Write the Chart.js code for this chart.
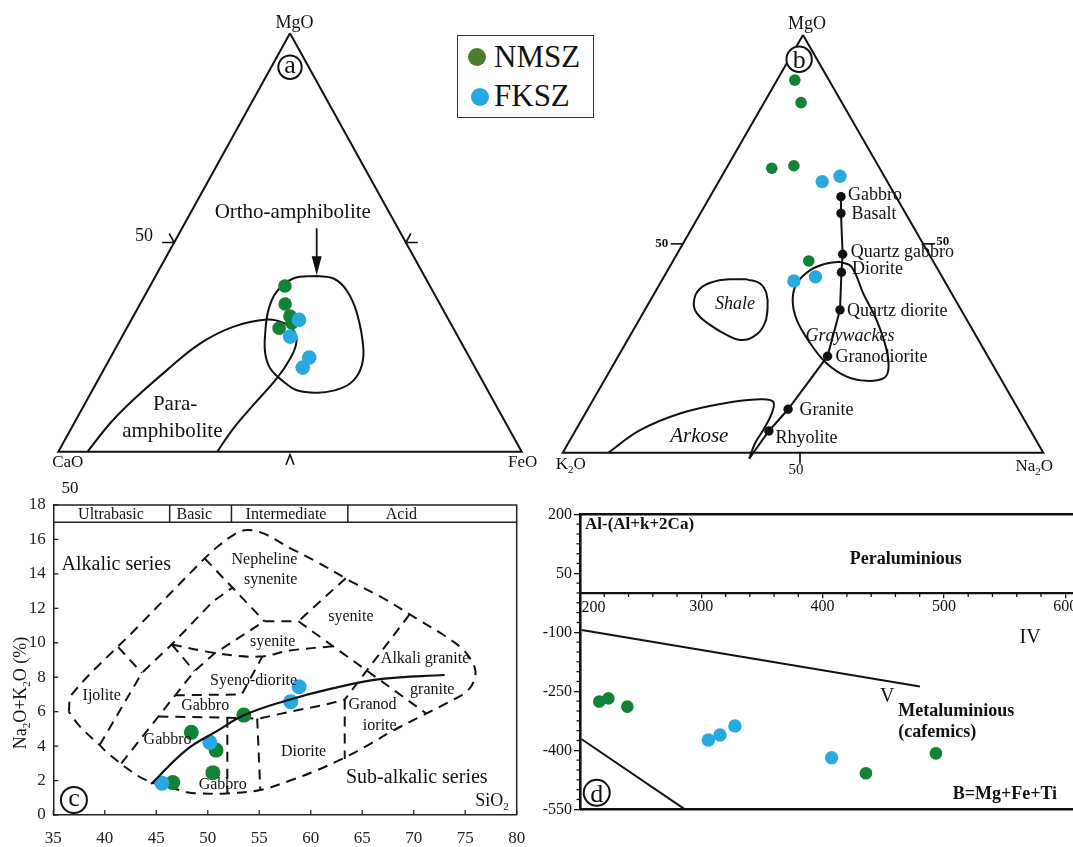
<!DOCTYPE html>
<html>
<head>
<meta charset="utf-8">
<title>Geochemical discrimination diagrams</title>
<script src="https://cdn.jsdelivr.net/npm/chart.js@4.4.1/dist/chart.umd.min.js"></script>
<style>
  html, body { margin: 0; padding: 0; background: #fff; width: 1073px; height: 847px; overflow: hidden; }
  canvas { position: absolute; }
  #legend { position: absolute; left: 457px; top: 35px; width: 137px; height: 83px; box-sizing: border-box;
            border: 1.3px solid #333; background: #fff; font-family: 'Liberation Serif', serif; color: #111; }
  #legend .dot { position: absolute; width: 18px; height: 18px; border-radius: 50%; }
  #legend .lbl { position: absolute; left: 36px; font-size: 31px; line-height: 31px; white-space: nowrap; }
</style>
</head>
<body>
<canvas id="chartA" width="540" height="480" style="left:0;top:0"></canvas>
<canvas id="chartB" width="533" height="480" style="left:540px;top:0"></canvas>
<canvas id="chartC" width="540" height="367" style="left:0;top:480px"></canvas>
<canvas id="chartD" width="560" height="367" style="left:540px;top:480px"></canvas>
<div id="legend"></div>
<script>
// ---------------- series ----------------
const seriesNames  = ['NMSZ', 'FKSZ'];
const seriesColors = ['#128236', '#29a9e1'];
const legendColors = ['#4d7d2c', '#27a8e3'];

// (a) MgO–CaO–FeO ternary: samples as [MgO, FeO] in %, CaO is the remainder
const aNMSZ = [[39.6, 29.1], [35.3, 31.3], [32.4, 33.8], [30.8, 35.0], [29.5, 32.9]];
const aFKSZ = [[31.5, 36.2], [27.5, 36.3], [22.5, 42.9], [20.1, 42.7]];
const aOrtho = [[42.0, 34.8], [41.4, 38.7], [38.6, 42.9], [33.1, 47.9], [24.3, 53.7], [19.5, 55.4], [16.3, 54.8],
                [14.6, 52.1], [14.1, 48.7], [14.7, 44.1], [16.7, 40.3], [19.9, 35.8], [23.5, 32.9], [28.3, 30.5],
                [33.9, 28.4], [38.2, 28.0], [41.4, 30.0], [42.0, 34.8]];
const aPara = [[0, 6.3], [6.8, 7.8], [12.4, 10.0], [19.5, 13.7], [25.9, 17.7], [29.9, 22.9], [31.6, 29.2],
               [30.8, 33.2], [28.7, 36.6], [25.9, 38.4], [22.3, 38.9], [17.5, 38.4], [11.2, 36.5], [5.6, 35.0], [0, 34.3]];

// (b) MgO–K2O–Na2O ternary: samples as [MgO, Na2O] in %, K2O is the remainder
const bNMSZ = [[89.2, 3.7], [83.8, 7.7], [68.1, 9.45], [68.7, 13.75], [45.9, 28.25]];
const bFKSZ = [[64.9, 21.55], [66.2, 24.6], [41.1, 27.55], [42.1, 31.55]];
const bRockNames = ['Gabbro', 'Basalt', 'Quartz gabbro', 'Diorite', 'Quartz diorite', 'Granodiorite', 'Granite', 'Rhyolite'];
const bRocks = [[61.3, 27.25], [57.3, 29.25], [47.5, 34.5], [43.2, 36.4], [34.2, 40.6], [23.1, 43.55], [10.4, 41.7], [5.2, 40.3]];
const bTrendEnd = [-1.4, 39.5];
const bShale = [[41.5, 17.55], [40.5, 20.8], [38.1, 23.35], [34.2, 25.5], [30.6, 26.6], [27.8, 25.8], [27.0, 23.4],
                [28.2, 20.0], [30.6, 15.35], [33.4, 11.2], [36.2, 9.2], [39.3, 8.95], [40.9, 10.85], [41.5, 14.05], [41.5, 17.55]];
const bGraywackes = [[45.7, 34.85], [44.5, 37.85], [38.1, 43.5], [31.8, 49.4], [24.6, 55.1], [19.8, 57.85], [17.8, 57.8],
                     [17.2, 54.6], [18.2, 50.0], [21.4, 44.2], [26.2, 38.4], [31.8, 32.8], [36.6, 29.55], [40.5, 28.45],
                     [43.7, 29.65], [45.3, 32.25], [45.7, 34.85]];
const bArkose = [[0, 9.5], [5.4, 13.4], [9.4, 19.7], [11.8, 27.5], [12.8, 34.65], [12.2, 37.7], [9.4, 38.8],
                 [5.4, 39.0], [2.2, 38.9], [-1.4, 39.5]];

// (c) total alkali vs silica: [SiO2, Na2O+K2O] in %
const cNMSZ = [[46.6, 1.88], [48.4, 4.8], [50.8, 3.77], [50.5, 2.46], [53.5, 5.8]];
const cFKSZ = [[45.55, 1.84], [50.2, 4.22], [58.06, 6.58], [58.87, 7.45]];
const cXTicks = [35, 40, 45, 50, 55, 60, 65, 70, 75, 80];
const cYTicks = [0, 2, 4, 6, 8, 10, 12, 14, 16, 18];
const cBandNames = ['Ultrabasic', 'Basic', 'Intermediate', 'Acid'];
const cBandEdges = [35, 46.3, 52.3, 63.6, 80];
const cDivide = [[44.5, 1.8], [47.9, 3.77], [50.8, 4.84], [53.55, 5.8], [57.26, 6.58], [62.1, 7.35], [66.9, 7.9], [73.0, 8.13]];
const cEnvelope = [[36.5, 6.0], [36.8, 7.0], [43.0, 10.8], [49.7, 14.9], [51.0, 15.6], [52.6, 16.3], [53.8, 16.55],
                   [55.4, 16.35], [58.0, 15.5], [60.6, 14.7], [63.8, 13.6], [67.0, 12.6], [70.3, 11.4], [72.9, 10.45],
                   [74.8, 9.6], [75.9, 8.6], [75.9, 7.85], [75.1, 7.15], [73.2, 6.5], [70.6, 5.7], [68.0, 4.9],
                   [65.4, 4.0], [63.2, 3.3], [60.6, 2.6], [58.0, 2.0], [55.1, 1.45], [51.8, 1.25], [49.2, 1.25],
                   [48.0, 1.32], [46.4, 1.6], [44.8, 1.84], [43.2, 2.28], [40.3, 3.58], [39.5, 4.06], [37.6, 5.13], [36.5, 6.0]];
const cFieldLines = [
  [[41.3, 9.75], [43.6, 8.25]],
  [[39.5, 4.06], [43.6, 8.25], [46.5, 9.9], [50.5, 12.4], [52.4, 13.2]],
  [[41.6, 3.0], [48.7, 8.35], [50.7, 9.4], [55.5, 11.25]],
  [[46.5, 9.9], [48.7, 8.35]],
  [[49.7, 14.9], [55.5, 11.25]],
  [[55.5, 11.25], [58.8, 11.25]],
  [[63.4, 13.75], [58.8, 11.25]],
  [[58.8, 11.25], [71.2, 5.9]],
  [[69.6, 11.65], [63.3, 6.7]],
  [[46.8, 6.95], [53.3, 7.0], [55.3, 9.2]],
  [[45.2, 5.72], [52.0, 5.65], [55.0, 5.6], [58.0, 6.0], [61.0, 6.35], [63.3, 6.7]],
  [[51.9, 5.65], [51.9, 1.25]],
  [[54.8, 5.6], [55.1, 1.45]],
  [[63.3, 6.7], [63.3, 3.25]]
];
const cSyeniteBase = [[46.5, 9.9], [50.8, 9.4], [55.0, 9.2], [58.0, 9.55], [62.2, 9.8]];
const cFieldNames = [
  ['Nepheline', 55.5, 14.86], ['synenite', 56.1, 13.7], ['syenite', 63.9, 11.55], ['syenite', 56.3, 10.12],
  ['Alkali granite', 71.1, 9.15], ['Syeno-diorite', 54.45, 7.88], ['Ijolite', 39.7, 6.97], ['Gabbro', 49.75, 6.39],
  ['granite', 71.8, 7.35], ['Granod', 66.0, 6.44], ['iorite', 66.7, 5.26], ['Gabbro', 46.1, 4.45],
  ['Diorite', 59.3, 3.72], ['Gabbro', 51.45, 1.8]
];

// (d) A–B diagram: [B = Mg+Fe+Ti, A = Al-(Al+K+2Ca)]
const dNMSZ = [[215.9, -276], [223.4, -268], [239, -289], [435.7, -458.5], [493.4, -407.7]];
const dFKSZ = [[305.8, -373.7], [315.4, -361], [327.7, -338], [407.4, -418.7]];
const dXTicks = [200, 300, 400, 500, 600];
const dYTicks = [-550, -400, -250, -100, 50, 200];
const dLineIV = [[201.4, -94], [480.2, -238]];
const dLineV  = [[201.4, -372], [286.5, -550]];

// ---------------- shared drawing helpers ----------------
const FONT = "'Liberation Serif', 'Times New Roman', serif";
const INK = '#111';
Chart.defaults.font.family = FONT;
Chart.defaults.color = INK;
Chart.defaults.animation = false;
Chart.defaults.responsive = false;
Chart.defaults.events = [];
Chart.defaults.plugins.legend.display = false;
Chart.defaults.plugins.tooltip.enabled = false;
Chart.defaults.elements.line.capBezierPoints = false;

const toTern = p => ({ x: p[1] + p[0] / 2, y: p[0] });
const toXY = p => ({ x: p[0], y: p[1] });

function pointSet(data, color, r) {
  return { data, backgroundColor: color, borderWidth: 0, pointRadius: r, pointHoverRadius: r, clip: false };
}
function curveSet(data, opts) {
  return Object.assign({ data, showLine: true, borderColor: INK, borderWidth: 2, pointRadius: 0,
                         pointHoverRadius: 0, tension: 0, fill: false, clip: false }, opts || {});
}

// text with "_x" subscripts, (x, y) is the visual centre
function drawText(ctx, str, x, y, o) {
  o = o || {};
  const size = o.size || 16;
  const style = (o.italic ? 'italic ' : '') + (o.bold ? 'bold ' : '');
  const fMain = style + size + 'px ' + FONT;
  const fSub = style + Math.round(size * 0.62) + 'px ' + FONT;
  const parts = [];
  let buf = '';
  for (let i = 0; i < str.length; i++) {
    if (str[i] === '_' && i + 1 < str.length) {
      if (buf) parts.push({ t: buf, sub: false });
      buf = '';
      parts.push({ t: str[i + 1], sub: true });
      i++;
    } else buf += str[i];
  }
  if (buf) parts.push({ t: buf, sub: false });
  let w = 0;
  parts.forEach(p => { ctx.font = p.sub ? fSub : fMain; p.w = ctx.measureText(p.t).width; w += p.w; });
  ctx.save();
  ctx.translate(x, y);
  if (o.rotate) ctx.rotate(o.rotate);
  ctx.fillStyle = o.color || INK;
  ctx.textAlign = 'left';
  ctx.textBaseline = 'alphabetic';
  let cx = o.align === 'left' ? 0 : o.align === 'right' ? -w : -w / 2;
  const base = size * 0.33;
  parts.forEach(p => {
    ctx.font = p.sub ? fSub : fMain;
    ctx.fillText(p.t, cx, p.sub ? base + size * 0.2 : base);
    cx += p.w;
  });
  ctx.restore();
}

function circleLabel(ctx, cx, cy, r, letter, tall) {
  ctx.save();
  ctx.beginPath();
  ctx.arc(cx, cy, r, 0, Math.PI * 2);
  ctx.fillStyle = '#fff';
  ctx.fill();
  ctx.lineWidth = 2;
  ctx.strokeStyle = INK;
  ctx.stroke();
  ctx.font = '26px ' + FONT;
  ctx.fillStyle = INK;
  ctx.textAlign = 'center';
  ctx.textBaseline = 'alphabetic';
  ctx.fillText(letter, cx, cy + (tall ? 26 * 0.34 : 26 * 0.22));
  ctx.restore();
}

function line(ctx, pts) {
  ctx.beginPath();
  ctx.moveTo(pts[0][0], pts[0][1]);
  for (let i = 1; i < pts.length; i++) ctx.lineTo(pts[i][0], pts[i][1]);
  ctx.stroke();
}

const hiddenScales = () => ({
  x: { type: 'linear', min: 0, max: 100, display: false },
  y: { type: 'linear', min: 0, max: 100, display: false }
});
const triangle = [[100, 0], [0, 0], [0, 100], [100, 0]].map(toTern);

// ---------------- legend ----------------
const legendEl = document.getElementById('legend');
const legendSpots = [{ dot: [10, 12], lbl: 4.5 }, { dot: [12.5, 51.5], lbl: 43.5 }];
seriesNames.forEach((name, i) => {
  const d = document.createElement('span');
  d.className = 'dot';
  d.style.left = legendSpots[i].dot[0] + 'px';
  d.style.top = legendSpots[i].dot[1] + 'px';
  d.style.background = legendColors[i];
  legendEl.appendChild(d);
  const t = document.createElement('span');
  t.className = 'lbl';
  t.style.top = legendSpots[i].lbl + 'px';
  t.textContent = name;
  legendEl.appendChild(t);
});

// ---------------- (a) ----------------
const panelA = {
  id: 'panelA',
  afterDatasetsDraw(chart) {
    const { ctx, scales: { x, y } } = chart;
    const P = (u, v) => [x.getPixelForValue(u), y.getPixelForValue(v)];
    const top = P(50, 100), left = P(0, 0), right = P(100, 0);
    drawText(ctx, 'MgO', top[0] + 4.5, top[1] - 11, { size: 18 });
    drawText(ctx, 'CaO', left[0] + 9.5, left[1] + 10, { size: 17 });
    drawText(ctx, 'FeO', right[0] + 1, right[1] + 10, { size: 17 });
    ctx.save();
    ctx.strokeStyle = INK;
    ctx.lineWidth = 1.6;
    const l50 = P(25, 50), r50 = P(75, 50), b50 = P(50, 0);
    line(ctx, [[l50[0] - 12, l50[1]], l50, [l50[0] - 5, l50[1] - 9]]);
    line(ctx, [[r50[0] + 12, r50[1]], r50, [r50[0] + 5, r50[1] - 9]]);
    line(ctx, [[b50[0] - 4, b50[1] + 13], [b50[0], b50[1] + 3], [b50[0] + 4, b50[1] + 13]]);
    // arrow towards the ortho-amphibolite field
    const t = P(55.76, 53.4), h = P(55.76, 42.2);
    ctx.lineWidth = 1.8;
    line(ctx, [t, [h[0], h[1] - 17]]);
    ctx.fillStyle = INK;
    ctx.beginPath();
    ctx.moveTo(h[0] - 5, h[1] - 19);
    ctx.lineTo(h[0] + 5, h[1] - 19);
    ctx.lineTo(h[0], h[1]);
    ctx.closePath();
    ctx.fill();
    ctx.restore();
    const lab50 = P(18.5, 51.8);
    drawText(ctx, '50', lab50[0], lab50[1], { size: 18 });
    const o = P(50.6, 57.4);
    drawText(ctx, 'Ortho-amphibolite', o[0], o[1], { size: 21 });
    const p1 = P(25.2, 11.55), p2 = P(24.6, 5.18);
    drawText(ctx, 'Para-', p1[0], p1[1], { size: 21 });
    drawText(ctx, 'amphibolite', p2[0], p2[1], { size: 21 });
    const c = P(50, 91.9);
    circleLabel(ctx, c[0], c[1], 11.7, 'a', false);
  }
};

new Chart(document.getElementById('chartA'), {
  type: 'scatter',
  data: {
    datasets: [
      pointSet(aFKSZ.map(toTern), seriesColors[1], 7.3),
      pointSet(aNMSZ.map(toTern), seriesColors[0], 6.8),
      curveSet(aOrtho.map(toTern), { tension: 0.4 }),
      curveSet(aPara.map(toTern), { tension: 0.4 }),
      curveSet(triangle)
    ]
  },
  options: { layout: { padding: { left: 58.3, top: 33.3, right: 18.3, bottom: 28.3 } }, scales: hiddenScales() },
  plugins: [panelA]
});

// ---------------- (b) ----------------
const bLabelNudge = [[7, -2.5], [10.5, 0], [8, -3], [10.5, -4.5], [7, 0], [8, 0], [11.5, 0], [6.5, 6]];
const panelB = {
  id: 'panelB',
  afterDatasetsDraw(chart) {
    const { ctx, scales: { x, y } } = chart;
    const P = (u, v) => [x.getPixelForValue(u), y.getPixelForValue(v)];
    const top = P(50, 100), left = P(0, 0), right = P(100, 0);
    drawText(ctx, 'MgO', top[0] + 4, top[1] - 12, { size: 18 });
    drawText(ctx, 'K_2O', left[0] + 8, left[1] + 11, { size: 17 });
    drawText(ctx, 'Na_2O', right[0] - 9, right[1] + 13, { size: 17 });
    ctx.save();
    ctx.strokeStyle = INK;
    ctx.lineWidth = 1.6;
    const l50 = P(25, 50), r50 = P(75, 50), b50 = P(50, 0);
    line(ctx, [[l50[0] - 12, l50[1]], l50]);
    line(ctx, [[r50[0] + 12, r50[1]], r50]);
    line(ctx, [[b50[0] - 3, b50[1]], [b50[0] - 3, b50[1] + 11]]);
    ctx.restore();
    drawText(ctx, '50', l50[0] - 21, l50[1] - 1, { size: 13, bold: true });
    drawText(ctx, '50', r50[0] + 19.5, r50[1] - 3, { size: 13, bold: true });
    drawText(ctx, '50', b50[0] - 7, b50[1] + 16.5, { size: 15 });
    bRocks.forEach((r, i) => {
      const p = P(r[1] + r[0] / 2, r[0]);
      drawText(ctx, bRockNames[i], p[0] + bLabelNudge[i][0], p[1] + bLabelNudge[i][1], { size: 18, align: 'left' });
    });
    const s = P(35.85, 35.77), g = P(59.77, 28.18), a = P(28.42, 4.24);
    drawText(ctx, 'Shale', s[0], s[1], { size: 18, italic: true });
    drawText(ctx, 'Graywackes', g[0], g[1], { size: 18, italic: true });
    drawText(ctx, 'Arkose', a[0], a[1], { size: 21, italic: true });
    const c = P(49.2, 94.2);
    circleLabel(ctx, c[0], c[1], 12.7, 'b', true);
  }
};

new Chart(document.getElementById('chartB'), {
  type: 'scatter',
  data: {
    datasets: [
      pointSet(bRocks.map(toTern), INK, 4.7),
      curveSet(bRocks.concat([bTrendEnd]).map(toTern)),
      pointSet(bFKSZ.map(toTern), seriesColors[1], 6.7),
      pointSet(bNMSZ.map(toTern), seriesColors[0], 5.8),
      curveSet(bShale.map(toTern), { tension: 0.45 }),
      curveSet(bGraywackes.map(toTern), { tension: 0.4 }),
      curveSet(bArkose.map(toTern), { tension: 0.4 }),
      curveSet(triangle)
    ]
  },
  options: { layout: { padding: { left: 22.7, top: 35, right: 29.7, bottom: 27.3 } }, scales: hiddenScales() },
  plugins: [panelB]
});

// ---------------- (c) ----------------
const cBandLabelX = [40.6, 48.7, 57.6, 68.8];
const panelC = {
  id: 'panelC',
  afterDatasetsDraw(chart) {
    const { ctx, chartArea: a, scales: { x, y } } = chart;
    const P = (u, v) => [x.getPixelForValue(u), y.getPixelForValue(v)];
    ctx.save();
    ctx.strokeStyle = '#222';
    ctx.lineWidth = 1.5;
    line(ctx, [[a.left, a.top], [a.right, a.top], [a.right, a.bottom]]);
    const yb = y.getPixelForValue(17);
    line(ctx, [[a.left, yb], [a.right, yb]]);
    cBandEdges.slice(1, -1).forEach(v => {
      const px = x.getPixelForValue(v);
      line(ctx, [[px, a.top], [px, yb]]);
    });
    ctx.lineWidth = 1.3;
    cYTicks.forEach(v => { const py = y.getPixelForValue(v); line(ctx, [[a.left, py], [a.left + 5, py]]); });
    cXTicks.forEach(v => { const px = x.getPixelForValue(v); line(ctx, [[px, a.bottom], [px, a.bottom - 5]]); });
    ctx.restore();
    cBandNames.forEach((n, i) => drawText(ctx, n, x.getPixelForValue(cBandLabelX[i]), (a.top + yb) / 2 + 0.5, { size: 16 }));
    cFieldNames.forEach(f => { const p = P(f[1], f[2]); drawText(ctx, f[0], p[0], p[1], { size: 16 }); });
    let p = P(35.8, 14.6);
    drawText(ctx, 'Alkalic series', p[0], p[1], { size: 20, align: 'left' });
    p = P(70.3, 2.23);
    drawText(ctx, 'Sub-alkalic series', p[0], p[1], { size: 20 });
    p = P(77.6, 0.87);
    drawText(ctx, 'SiO_2', p[0], p[1], { size: 18 });
    drawText(ctx, 'Na_2O+K_2O (%)', 20, 213, { size: 18, rotate: -Math.PI / 2 });
    drawText(ctx, '50', 70, 7, { size: 17 });
    p = P(37.0, 0.87);
    circleLabel(ctx, p[0], p[1], 13, 'c', false);
  }
};

const cDashed = { borderDash: [10, 7], borderWidth: 2 };
new Chart(document.getElementById('chartC'), {
  type: 'scatter',
  data: {
    datasets: [
      curveSet(cDivide.map(toXY), { tension: 0.4, borderWidth: 2.2 }),
      pointSet(cFKSZ.map(toXY), seriesColors[1], 7.5),
      pointSet(cNMSZ.map(toXY), seriesColors[0], 7.5),
      curveSet(cEnvelope.map(toXY), Object.assign({ tension: 0.35 }, cDashed)),
      curveSet(cSyeniteBase.map(toXY), Object.assign({ tension: 0.4 }, cDashed))
    ].concat(cFieldLines.map(f => curveSet(f.map(toXY), cDashed)))
  },
  options: {
    layout: { padding: { left: 0, top: 25, right: 23.3, bottom: 0 } },
    scales: {
      x: {
        type: 'linear', min: 35, max: 80, position: 'bottom',
        afterBuildTicks: s => { s.ticks = cXTicks.map(v => ({ value: v })); },
        afterFit: s => { s.height = 32; },
        grid: { display: false, drawTicks: false },
        border: { display: true, color: '#222', width: 1.5 },
        ticks: { font: { size: 17 }, color: '#222', padding: 13, maxRotation: 0, autoSkip: false }
      },
      y: {
        type: 'linear', min: 0, max: 18, position: 'left',
        afterBuildTicks: s => { s.ticks = cYTicks.map(v => ({ value: v })); },
        afterFit: s => { s.width = 53.3; },
        grid: { display: false, drawTicks: false },
        border: { display: true, color: '#222', width: 1.5 },
        ticks: { font: { size: 17 }, color: '#222', padding: 7.6, autoSkip: false }
      }
    }
  },
  plugins: [panelC]
});

// ---------------- (d) ----------------
const panelD = {
  id: 'panelD',
  afterDatasetsDraw(chart) {
    const { ctx, chartArea: a, scales: { x, y } } = chart;
    const P = (u, v) => [x.getPixelForValue(u), y.getPixelForValue(v)];
    ctx.save();
    ctx.strokeStyle = INK;
    ctx.lineWidth = 2.6;
    line(ctx, [[a.left, a.top], [a.right, a.top], [a.right, a.bottom], [a.left, a.bottom]]);
    ctx.lineWidth = 1.3;
    const y0 = y.getPixelForValue(0);
    for (let v = -525; v < 200; v += 25) {
      if (dYTicks.includes(v)) continue;
      const py = y.getPixelForValue(v);
      line(ctx, [[a.left, py], [a.left - 3.5, py]]);
    }
    for (let v = 220; v < 620; v += 20) {
      if (dXTicks.includes(v)) continue;
      const px = x.getPixelForValue(v);
      line(ctx, [[px, y0], [px, y0 + 4]]);
    }
    ctx.restore();
    drawText(ctx, String(dXTicks[0]), x.getPixelForValue(dXTicks[0]) + 13.5, y0 + 13.5, { size: 16 });
    let p = P(204.1, 177.9);
    drawText(ctx, 'Al-(Al+k+2Ca)', p[0], p[1], { size: 17, bold: true, align: 'left' });
    p = P(468.5, 88.2);
    drawText(ctx, 'Peraluminious', p[0], p[1], { size: 18, bold: true });
    p = P(571, -111);
    drawText(ctx, 'IV', p[0], p[1], { size: 20 });
    p = P(453.3, -259.4);
    drawText(ctx, 'V', p[0], p[1], { size: 20 });
    p = P(462.3, -297.5);
    drawText(ctx, 'Metaluminious', p[0], p[1], { size: 18, bold: true, align: 'left' });
    p = P(462.3, -351);
    drawText(ctx, '(cafemics)', p[0], p[1], { size: 18, bold: true, align: 'left' });
    p = P(507.2, -508);
    drawText(ctx, 'B=Mg+Fe+Ti', p[0], p[1], { size: 18, bold: true, align: 'left' });
    p = P(213.8, -508);
    circleLabel(ctx, p[0], p[1], 13, 'd', true);
  }
};

new Chart(document.getElementById('chartD'), {
  type: 'scatter',
  data: {
    datasets: [
      pointSet(dFKSZ.map(toXY), seriesColors[1], 6.7),
      pointSet(dNMSZ.map(toXY), seriesColors[0], 6.3),
      curveSet(dLineIV.map(toXY)),
      curveSet(dLineV.map(toXY))
    ]
  },
  options: {
    layout: { padding: { left: 0, top: 34.3, right: 10.5, bottom: 37.7 } },
    scales: {
      x: {
        type: 'linear', min: 200, max: 620, position: { y: 0 },
        afterBuildTicks: s => { s.ticks = dXTicks.map(v => ({ value: v })); },
        grid: { display: true, drawOnChartArea: false, drawTicks: true, tickLength: 4, color: INK, lineWidth: 1.3 },
        border: { display: true, color: INK, width: 2.2 },
        ticks: { font: { size: 16 }, color: INK, padding: 0, maxRotation: 0, autoSkip: false,
                 callback: v => (v === dXTicks[0] ? '' : String(v)) }
      },
      y: {
        type: 'linear', min: -550, max: 200, position: 'left',
        afterBuildTicks: s => { s.ticks = dYTicks.map(v => ({ value: v })); },
        afterFit: s => { s.width = 40; },
        grid: { display: true, drawOnChartArea: false, drawTicks: true, tickLength: 6, color: INK, lineWidth: 1.3 },
        border: { display: true, color: INK, width: 2.6 },
        ticks: { font: { size: 16 }, color: INK, padding: 2, autoSkip: false }
      }
    }
  },
  plugins: [panelD]
});
</script>
</body>
</html>
